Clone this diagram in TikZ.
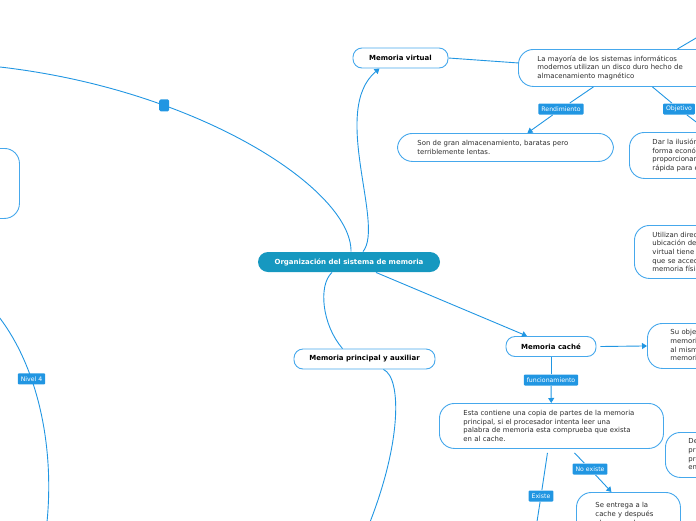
\documentclass[tikz,border=0pt]{standalone}
\usepackage{fontspec}
\setmainfont{DejaVu Sans}
\usetikzlibrary{positioning,arrows.meta}
\definecolor{cLine}{RGB}{33,150,226}
\definecolor{cRoot}{RGB}{22,152,192}
\definecolor{cEdge}{RGB}{70,168,236}
\definecolor{cText}{RGB}{45,45,45}

\begin{document}
\begin{tikzpicture}[x=1pt,y=-1pt,
   line width=0.9pt,
   root/.style={fill=cRoot,text=white,rounded corners=10pt,minimum width=182pt,minimum height=20pt,inner sep=0pt,font=\fontsize{7}{8}\selectfont\bfseries},
   topic/.style={draw=cEdge,fill=white,rounded corners=9pt,minimum height=20pt,inner sep=0pt,font=\fontsize{7}{8}\selectfont\bfseries,text=black},
   note/.style={draw=cEdge,fill=white,rounded corners=15pt,align=left,inner ysep=0pt,anchor=north west,text=cText,font=\fontsize{6.9}{8.7}\selectfont},
   tag/.style={fill=cLine,text=white,rounded corners=1pt,minimum height=11pt,inner xsep=3pt,inner ysep=0pt,font=\fontsize{6.2}{7}\selectfont},
   marker/.style={fill=cLine,rounded corners=1.5pt,minimum width=10pt,minimum height=12pt,inner sep=0pt},
   con/.style={draw=cLine},
   arr/.style={draw=cLine,-{Triangle[length=5pt,width=6pt]}}]
  \useasboundingbox (0,0) rectangle (696,520);
  \clip (0,0) rectangle (696,520);
  % main topics
  \node[root] (org) at (349,262) {Organización del sistema de memoria};
  \node[topic,minimum width=95pt] (virt) at (400.5,58) {Memoria virtual};
  \node[topic,minimum width=141pt] (prin) at (364.5,359) {Memoria principal y auxiliar};
  \node[topic,minimum width=90pt] (cache) at (551,346.5) {Memoria caché};
  % notes
  \node[note,inner xsep=19pt,text width=170pt,minimum height=37pt] (disco) at (518,49) {La mayoría de los sistemas informáticos\\modernos utilizan un disco duro hecho de\\almacenamiento magnético};
  \node[note,inner xsep=20pt,text width=176pt,minimum height=28pt] (lentas) at (397,133) {Son de gran almacenamiento, baratas pero\\terriblemente lentas.};
  \node[note,inner xsep=23pt,text width=150pt,minimum height=46pt] (ilus) at (629,132) {Dar la ilusión de tener memoria\\forma económica y al mismo\\proporcionar una memoria\\rápida para el procesador};
  \node[note,inner xsep=18pt,text width=150pt,minimum height=53pt] (direc) at (634,225) {Utilizan direcciones virtuales\\ubicación de la memoria\\virtual tiene una dirección\\que se accede en la\\memoria física};
  \node[note,inner xsep=23pt,text width=150pt,minimum height=45pt] (suobj) at (647,323) {Su objetivo es lograr una\\memoria muy rápida y\\al mismo tiempo una\\memoria grande};
  \node[note,inner xsep=24pt,text width=176pt,minimum height=45pt] (copia) at (439,403) {Esta contiene una copia de partes de la memoria\\principal, si el procesador intenta leer una\\palabra de memoria esta comprueba que exista\\en al cache.};
  \node[note,inner xsep=19pt,text width=66pt,minimum height=44pt] (entrega) at (576,492) {Se entrega a la\\cache y después\\al procesador};
  \node[note,inner xsep=23pt,text width=150pt,minimum height=45pt] (desde) at (665,432) {Desde la memoria\\principal se\\procesa y se\\entrega al};
  \node[note,inner xsep=18pt,text width=63pt,minimum height=70pt] (izq) at (-80,148) {};
  % labels
  \node[tag] (lrend) at (561,109) {Rendimiento};
  \node[tag] (lobj) at (679,109) {Objetivo};
  \node[tag] (lfunc) at (551,380) {funcionamiento};
  \node[tag] (lno) at (590,469) {No existe};
  \node[tag] (lsi) at (541,496) {Existe};
  % loose ends
  \coordinate (offTR) at (730,18);
  \coordinate (offL) at (0,67);
  \coordinate (offB) at (366,532);
  \coordinate (offLL) at (-5,312);
  \coordinate (offBL) at (47,522);
  \coordinate (offEx) at (536,528);
  % connectors
  \draw[arr] ([xshift=14pt]org.north) .. controls (385,225) and (330,110) .. ([xshift=-21pt]virt.south);
  \draw[con] ([xshift=2pt]org.north) .. controls (352,190) and (200,90) .. (offL) node[marker,pos=0.7] (sq) {};
  \draw[con] ([xshift=-17pt]org.south) .. controls (318,285) and (322,325) .. ([xshift=-22pt]prin.north);
  \draw[con] ([xshift=19pt]prin.south) .. controls (402,378) and (402,445) .. (offB);
  \draw[con] (offLL) .. controls (35,360) and (55,440) .. (offBL) node[tag,pos=0.38] (lniv) {Nivel 4};
  \draw[con] (virt.east) -- ([yshift=5pt]disco.west);
  \draw[con] ([xshift=55pt]disco.north) -- (offTR);
  \draw[con] ([xshift=-29pt]disco.south) -- (lrend);
  \draw[arr] (lrend) -- ([xshift=22pt]lentas.north);
  \draw[con] ([xshift=30pt]disco.south) -- (lobj);
  \draw[arr] (lobj) -- ([xshift=-18pt]ilus.north);
  \draw[arr] ([xshift=27pt]org.south) -- ([xshift=-24pt]cache.north);
  \draw[arr] ([xshift=4pt]cache.east) -- (suobj.west);
  \draw[con] (cache) -- (lfunc);
  \draw[arr] (lfunc) -- (copia);
  \draw[con] ([xshift=23pt,yshift=-4pt]copia.south) -- (lno);
  \draw[arr] (lno) -- ([xshift=-17pt]entrega.north);
  \draw[con] ([xshift=-4pt,yshift=-4pt]copia.south) -- (lsi);
  \draw[con] (lsi) -- (offEx);
\end{tikzpicture}
\end{document}
